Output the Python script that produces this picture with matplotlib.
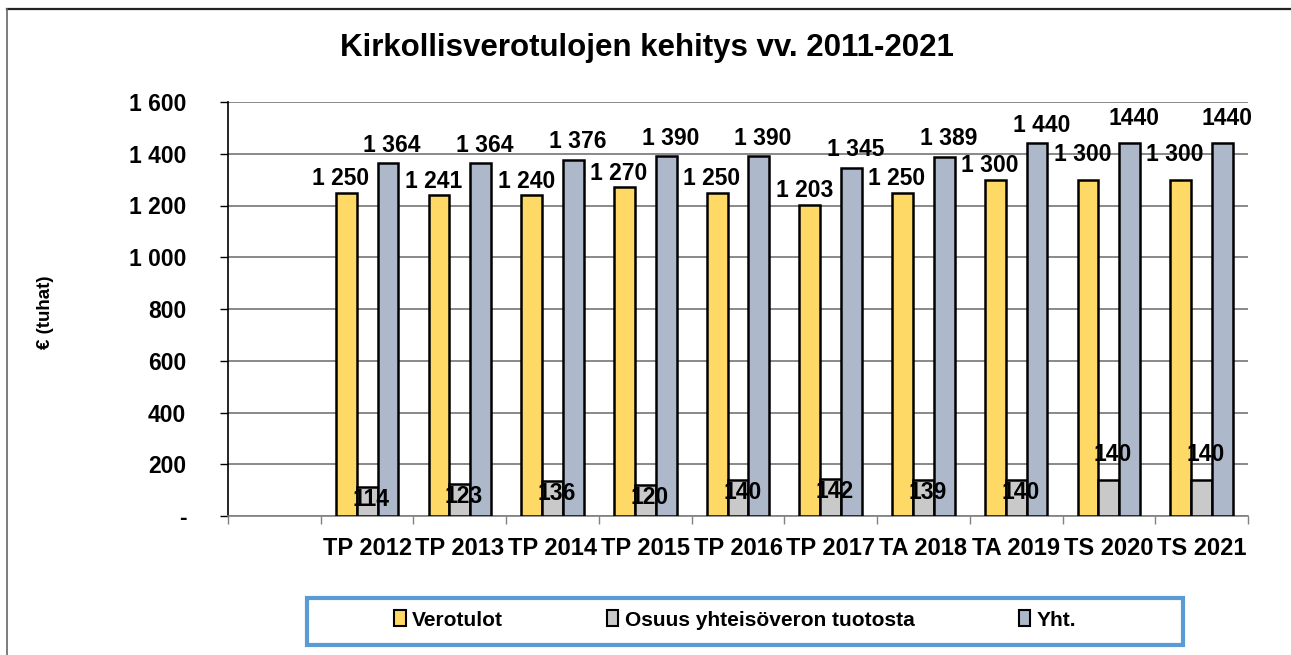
import matplotlib.pyplot as plt
from matplotlib.patches import Rectangle
from matplotlib.lines import Line2D
import numpy as np

plt.rcParams['font.family'] = ['Liberation Sans', 'DejaVu Sans']
plt.rcParams['font.weight'] = 'bold'

categories = ["", "TP 2012", "TP 2013", "TP 2014", "TP 2015", "TP 2016",
              "TP 2017", "TA 2018", "TA 2019", "TS 2020", "TS 2021"]
verotulot = [None, 1250, 1241, 1240, 1270, 1250, 1203, 1250, 1300, 1300, 1300]
osuus = [None, 114, 123, 136, 120, 140, 142, 139, 140, 140, 140]
yht = [None, 1364, 1364, 1376, 1390, 1390, 1345, 1389, 1440, 1440, 1440]
yht_spaced = [True] * 9 + [False, False]

series = [("Verotulot", verotulot, "#FFD966"),
          ("Osuus yhteisöveron tuotosta", osuus, "#C9C9C9"),
          ("Yht.", yht, "#ADB9CA")]

# label nudges in points (dx, dy) per series, extra lift for last two columns
label_dx = [-4, 3, 3]
label_dy = [10, -9, 13]
label_dy_last = [18, 18, 18]


def fmt(v, spaced=True):
    s = f"{v:,}"
    return s.replace(",", " " if spaced else "")


fig = plt.figure(figsize=(12.91, 6.55), dpi=100)
ax = fig.add_axes([228 / 1291, 1 - 516 / 655, 1020 / 1291, 414 / 655])

x = np.arange(len(categories))
w = 0.225
for i, (name, vals, col) in enumerate(series):
    for j, v in enumerate(vals):
        if v is None:
            continue
        xp = x[j] + (i - 1) * w
        ax.bar(xp, v, w, color=col, edgecolor="black", linewidth=1.8, zorder=3)
        last = j >= len(categories) - 2
        dy = label_dy_last[i] if last else label_dy[i]
        txt = fmt(v, yht_spaced[j]) if name == "Yht." else fmt(v)
        ax.annotate(txt, (xp, v), xytext=(label_dx[i], dy), textcoords="offset points",
                    ha="center", va="center", fontsize=16.5, fontweight="bold", zorder=5)

ax.set_xlim(-0.5, len(categories) - 0.5)
ax.set_ylim(0, 1600)
ax.set_yticks(np.arange(0, 1601, 200))
ax.set_yticklabels(["-"] + [fmt(v) for v in range(200, 1601, 200)], fontsize=16.5, fontweight="bold")
ax.set_xticks(x)
ax.set_xticklabels(categories, fontsize=17, fontweight="bold")
ax.set_xticks(np.arange(-0.5, len(categories)), minor=True)
ax.tick_params(axis="x", which="major", length=0, pad=15)
ax.tick_params(axis="x", which="minor", length=6, width=1, color="#808080", direction="out")
ax.tick_params(axis="y", length=6, width=1, direction="out", pad=24)
ax.grid(axis="y", color="#6a6a6a", linewidth=1.1, zorder=0)
ax.set_axisbelow(True)
for s in ["top", "right"]:
    ax.spines[s].set_visible(False)
ax.spines["left"].set_linewidth(1.2)
ax.spines["bottom"].set_color("#808080")
ax.spines["bottom"].set_linewidth(1.2)

fig.text(647 / 1291, 1 - 48 / 655, "Kirkollisverotulojen kehitys vv. 2011-2021",
         ha="center", va="center", fontsize=22.5, fontweight="bold")
fig.text(45 / 1291, 1 - 312 / 655, "€ (tuhat)", rotation=90, ha="center", va="center",
         fontsize=13.5, fontweight="bold")

# outer chart border
fig.add_artist(Line2D([7 / 1291, 1], [1 - 9 / 655, 1 - 9 / 655], color="#222222", lw=1.6))
fig.add_artist(Line2D([7 / 1291, 7 / 1291], [0, 1 - 9 / 655], color="#666666", lw=1.2))

# legend box
fig.add_artist(Rectangle((307 / 1291, 1 - 645 / 655), 876 / 1291, 47 / 655,
                         transform=fig.transFigure, fill=False, edgecolor="#5B9BD5", lw=3))
handles = [Rectangle((0, 0), 1, 1, facecolor=c, edgecolor="black", lw=1.5) for _, _, c in series]
fig.legend(handles, [n for n, _, _ in series], loc="center", ncol=3,
           bbox_to_anchor=(735 / 1291, 1 - 620 / 655), frameon=False,
           handlelength=0.55, handleheight=0.8, handletextpad=0.3, columnspacing=5.0,
           prop={"weight": "bold", "size": 15})

fig.savefig("out.png", dpi=100)
